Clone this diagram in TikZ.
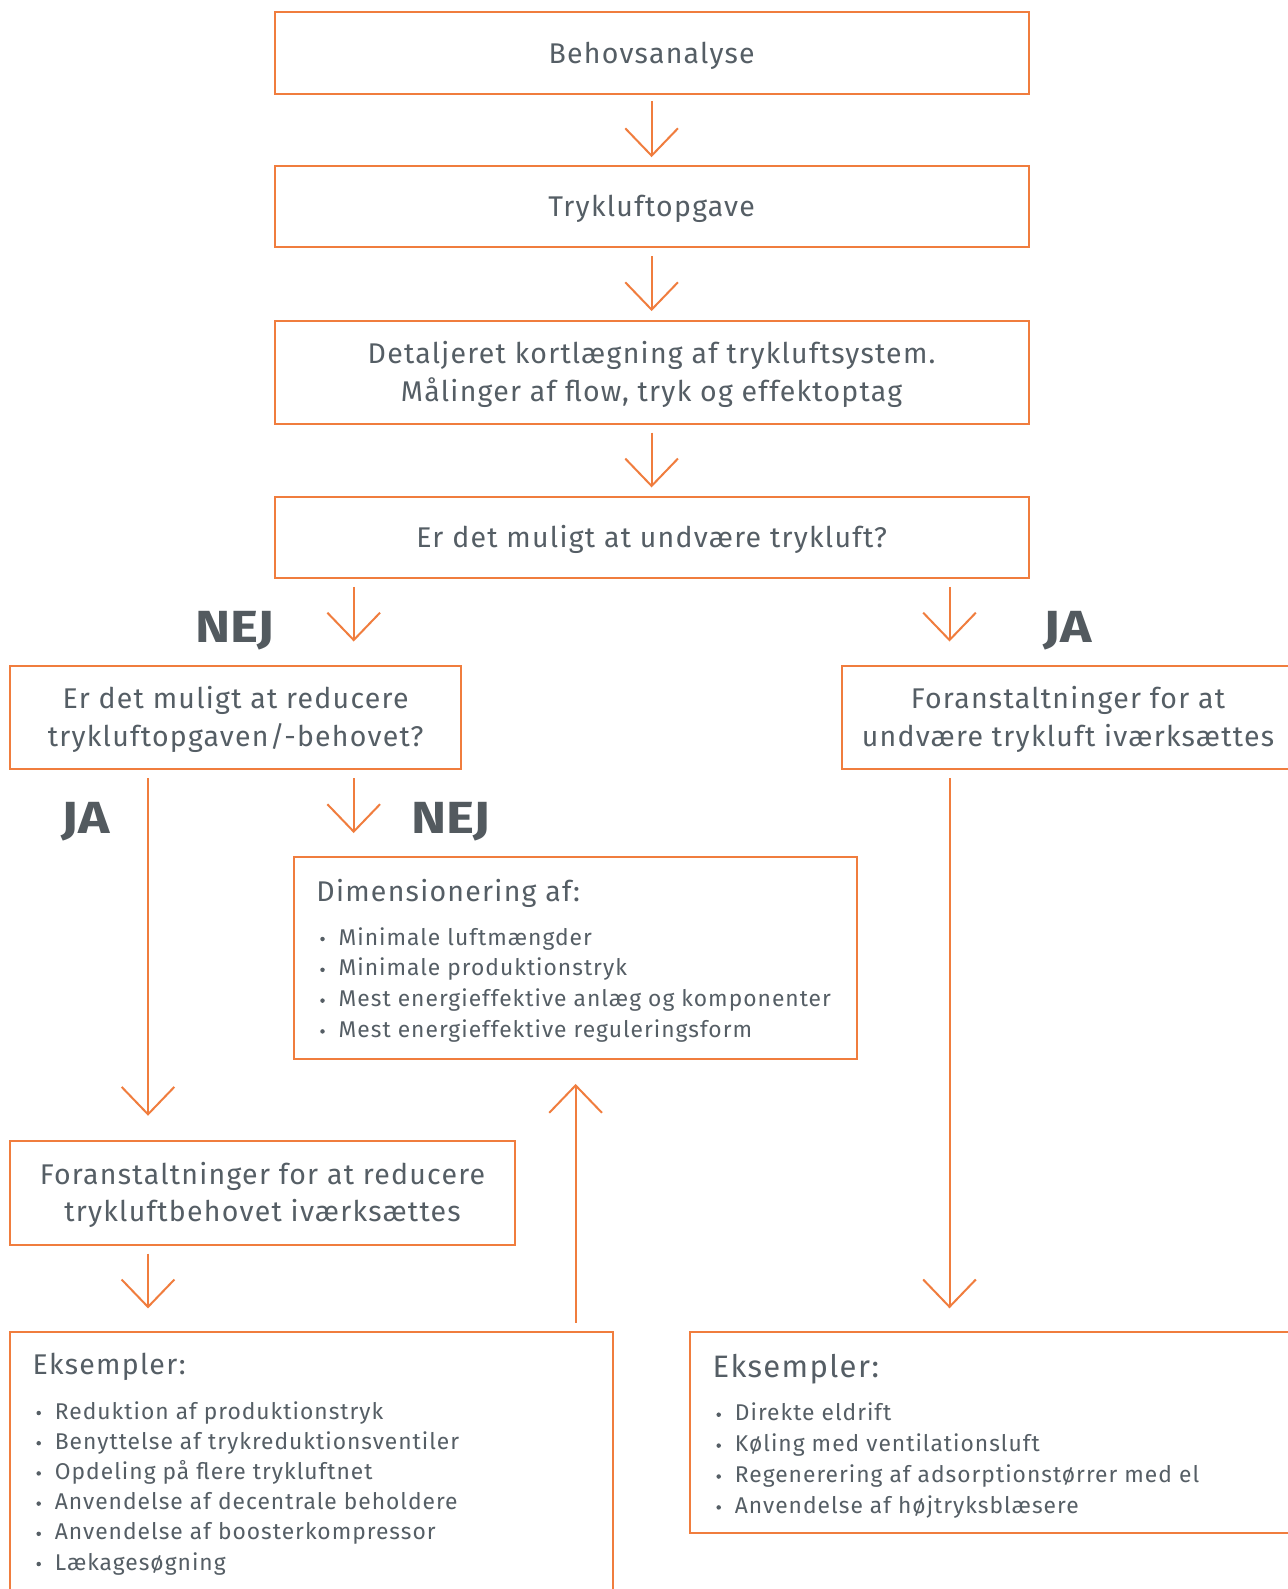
\documentclass[tikz,border=0pt]{standalone}
\usepackage{fontspec}
\setmainfont{Fira Sans}
\newfontfamily\trk{Fira Sans}[LetterSpace=4.4]
\usetikzlibrary{arrows.meta,calc}
\definecolor{org}{RGB}{240,125,62}
\definecolor{txtg}{RGB}{85,94,101}
\definecolor{boldg}{RGB}{83,90,95}
\tikzset{
  box/.style={draw=org, line width=2pt, rectangle, inner sep=0pt, outer sep=0pt},
  arr/.style={draw=org, line width=2pt, -{Straight Barb[length=27.4pt,width=52.7pt]}},
  main/.style={text=txtg, font=\trk\fontsize{28.5}{37.5}\selectfont, inner sep=0pt, anchor=base},
  lbl/.style={text=boldg, font=\fontsize{45}{45}\selectfont\bfseries, inner sep=0pt, anchor=base},
  ttl/.style={text=txtg, font=\trk\fontsize{28.5}{37.5}\selectfont, inner sep=0pt, anchor=base west},
  itm/.style={text=txtg, font=\trk\fontsize{22.8}{30}\selectfont, inner sep=0pt, anchor=base west},
  bdot/.style={fill=txtg, circle, inner sep=0pt, minimum size=4.5pt},
}
\newcommand{\wideb}[1]{\scalebox{1.18}[1]{#1}}
\begin{document}
\begin{tikzpicture}[x=1pt,y=-1pt]
\fill[white] (0,0) rectangle (1287,1589);
\useasboundingbox (0,0) rectangle (1287,1589);

% boxes
\node[box, minimum width=754pt, minimum height=82pt] (b1) at (651.6,53.2) {};
\node[box, minimum width=754pt, minimum height=81pt] (b2) at (651.6,206.75) {};
\node[box, minimum width=754pt, minimum height=102.4pt] (b3) at (651.6,372.4) {};
\node[box, minimum width=754pt, minimum height=81pt] (b4) at (651.6,537.1) {};
\node[box, minimum width=451pt, minimum height=103.4pt] (b5) at (235.6,717.5) {};
\node[box, minimum width=452pt, minimum height=103.4pt] (b6) at (1068,717.5) {};
\node[box, minimum width=563.4pt, minimum height=201.7pt] (b7) at (575.6,958.2) {};
\node[box, minimum width=504.7pt, minimum height=103.5pt] (b8) at (262.5,1192.8) {};
\node[box, minimum width=603pt, minimum height=288pt] (b9) at (311.6,1475.9) {};
\node[box, minimum width=604pt, minimum height=201.4pt] (b10) at (992,1432.5) {};

% box texts
\node[main] (t1) at ($(b1.center)+(0,10)$) {Behovsanalyse};
\node[main] (t2) at ($(b2.center)+(0,10)$) {Trykluftopgave};
\node[main] (t3a) at ($(b3.center)+(0,-8.75)$) {Detaljeret kortlægning af trykluftsystem.};
\node[main] (t3b) at ($(b3.center)+(0,28.75)$) {Målinger af flow, tryk og effektoptag};
\node[main] (t4) at ($(b4.center)+(0,10)$) {Er det muligt at undvære trykluft?};
\node[main] (t5a) at ($(b5.center)+(0,-8.75)$) {Er det muligt at reducere};
\node[main] (t5b) at ($(b5.center)+(0,28.75)$) {trykluftopgaven/-behovet?};
\node[main] (t6a) at ($(b6.center)+(0,-8.75)$) {Foranstaltninger for at};
\node[main] (t6b) at ($(b6.center)+(0,28.75)$) {undvære trykluft iværksættes};
\node[main] (t8a) at ($(b8.center)+(0,-8.75)$) {Foranstaltninger for at reducere};
\node[main] (t8b) at ($(b8.center)+(0,28.75)$) {trykluftbehovet iværksættes};

% labels
\node[lbl] (nej1) at (235,642.7) {\wideb{NEJ}};
\node[lbl] (ja1) at (1068,642.7) {\wideb{JA}};
\node[lbl] (ja2) at (86,833) {\wideb{JA}};
\node[lbl] (nej2) at (451,833) {\wideb{NEJ}};

% box 7 contents
\node[ttl] (t7) at (316.2,901.7) {Dimensionering af:};
\foreach \t [count=\i] in {Minimale luftmængder, Minimale produktionstryk, Mest energieffektive anlæg og komponenter, Mest energieffektive reguleringsform}{
  \node[bdot] (d7\i) at (322.5,{945+(\i-1)*30.8-6}) {};
  \node[itm] (i7\i) at (338.5,{945+(\i-1)*30.8}) {\t};
}

% box 9 contents
\node[ttl] (t9) at (32.4,1374.3) {Eksempler:};
\foreach \t [count=\i] in {Reduktion af produktionstryk, Benyttelse af trykreduktionsventiler, Opdeling på flere trykluftnet, Anvendelse af decentrale beholdere, Anvendelse af boosterkompressor, Lækagesøgning}{
  \node[bdot] (d9\i) at (38.7,{1419+(\i-1)*30.2-6}) {};
  \node[itm] (i9\i) at (54.7,{1419+(\i-1)*30.2}) {\t};
}

% box 10 contents
\node[ttl, font=\trk\fontsize{31}{37.5}\selectfont] (t10) at (712.4,1377.3) {Eksempler:};
\foreach \t [count=\i] in {Direkte eldrift, Køling med ventilationsluft, Regenerering af adsorptionstørrer med el, Anvendelse af højtryksblæsere}{
  \node[bdot] (d10\i) at (718.7,{1420.7+(\i-1)*30.9-6}) {};
  \node[itm] (i10\i) at (734.7,{1420.7+(\i-1)*30.9}) {\t};
}

% x positions of side connectors
\coordinate (xA) at (148,0);
\coordinate (xB) at (353.7,0);
\coordinate (xC) at (949.5,0);

% connectors
\draw[arr, shorten <=7.1pt, shorten >=9.1pt] (b1.south) -- (b2.north);
\draw[arr, shorten <=9.1pt, shorten >=10.1pt] (b2.south) -- (b3.north);
\draw[arr, shorten <=9pt, shorten >=9.2pt] (b3.south) -- (b4.north);
\draw[arr, shorten <=9.2pt, shorten >=24.3pt] (b4.south -| xB) -- (b5.north -| xB);
\draw[arr, shorten <=9.2pt, shorten >=24.3pt] (b4.south -| xC) -- (b6.north -| xC);
\draw[arr, shorten <=8.8pt, shorten >=25.3pt] (b5.south -| xA) -- (b8.north -| xA);
\draw[arr, shorten <=8.8pt, shorten >=24.3pt] (b5.south -| xB) -- (b7.north -| xB);
\draw[arr, shorten <=8.8pt, shorten >=23.5pt] (b6.south -| xC) -- (b10.north -| xC);
\draw[arr, shorten <=9pt, shorten >=23.5pt] (b8.south -| xA) -- (b9.north -| xA);
\draw[arr, shorten <=9.3pt, shorten >=24.9pt] (b9.north -| b7.south) -- (b7.south);
\end{tikzpicture}
\end{document}
